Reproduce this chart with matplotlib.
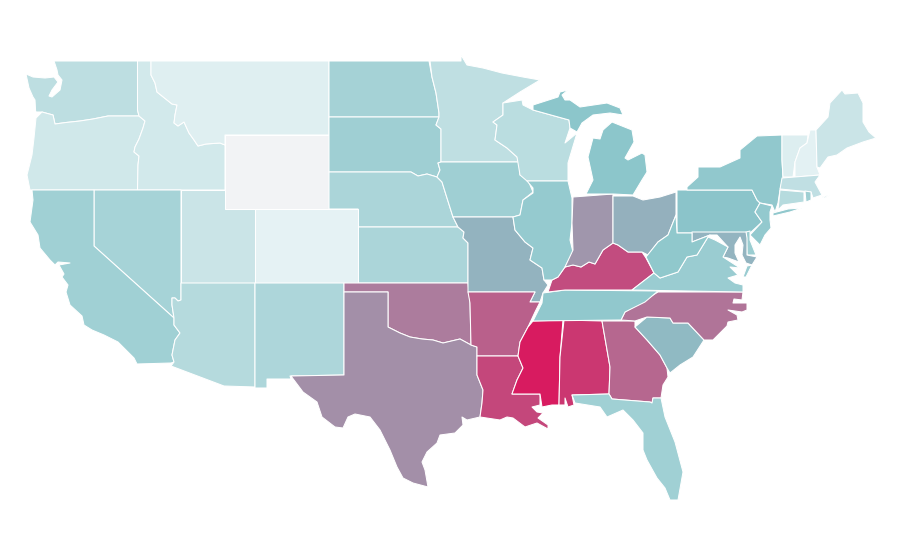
import matplotlib
matplotlib.use("Agg")
import matplotlib.pyplot as plt
from matplotlib.collections import PolyCollection
from matplotlib.colors import LinearSegmentedColormap, Normalize

# State outlines (one or more rings per state)
outlines = {
 "WA": [[(54,61),(137.5,61),(137.5,110),(139,116),(108,116),(93,119),(80,121),(66,122.5),(55,124),(53,115),(42,112),(36,112),(36,118),(35,100),(33,97),(29,88),(26,74),(33,77),(45,78),(54,77),(58,82),(52,90),(49,96),(52,97),(60,90),(62,80),(58,75),(57,70)]],
 "OR": [[(36,118),(42,112),(53,115),(55,124),(66,122.5),(80,121),(93,119),(108,116),(139,116),(145,121),(143,128),(139,139),(135,147),(134,152),(139,156),(138,165),(137.5,190),(30,190),(27,175),(32,155),(34,138)]],
 "ID": [[(137.5,61),(151,61),(151,75),(155,83),(157,92),(167,100),(172,104),(177,105),(175,115),(174,123),(178,126),(184,122),(189,133),(194,140),(198,146),(206,144),(220,143),(225,145),(225,190),(137.5,190),(138,165),(139,156),(134,152),(135,147),(139,139),(143,128),(145,121),(139,116),(137.5,110)]],
 "MT": [[(151,61),(329,61),(329,135),(225,135),(225,145),(220,143),(206,144),(198,146),(194,140),(189,133),(184,122),(178,126),(174,123),(175,115),(177,105),(172,104),(167,100),(157,92),(155,83),(151,75)]],
 "WY": [[(225,135),(329,135),(329,209),(225,209)]],
 "ND": [[(329,61),(429,61),(432,77),(436,93),(439,113),(439,117),(329,117)]],
 "SD": [[(329,117),(439,117),(436,125),(441,129),(441,162),(438,163),(440,170),(437,177),(427,174),(418,176),(411,172),(329,172)]],
 "NE": [[(329,172),(411,172),(418,176),(427,174),(437,177),(442,182),(447,198),(453,217),(458,227),(358,227),(358,209),(329,209)]],
 "KS": [[(358,227),(458,227),(464,232),(463,238),(468,243),(468,283),(358,283)]],
 "CO": [[(255,209),(358,209),(358,283),(255,283)]],
 "UT": [[(181,190),(225,190),(225,209),(255,209),(255,283),(181,283)]],
 "NV": [[(94,190),(181,190),(181,300),(178,301),(175,298),(172,298),(172,305),(174,318),(94,246)]],
 "CA": [[(32,190),(94,190),(94,246),(174,318),(174,325),(180,333),(175,340),(173,350),(172,355),(174,362),(171,363),(137,364),(134,358),(118,342),(104,335),(92,330),(84,325),(82,316),(70,305),(66,292),(68,285),(62,277),(64,274),(59,265),(70,263),(58,262),(55,265),(50,260),(40,248),(38,235),(30,222),(33,200)]],
 "AZ": [[(181,283),(255,283),(255,387),(224,386),(171,366),(174,362),(172,355),(173,350),(175,340),(180,333),(174,325),(174,318),(172,305),(172,298),(175,298),(178,301),(181,300)]],
 "NM": [[(255,283),(344,283),(344,375),(290,376),(291,379),(267,379),(267,388),(255,388)]],
 "OK": [[(344,283),(468,283),(470,303),(471,345),(460,339),(443,343),(433,340),(422,339),(410,337),(400,333),(388,327),(388,292),(344,292)]],
 "TX": [[(344,292),(388,292),(388,327),(400,333),(410,337),(422,339),(433,340),(443,343),(460,339),(471,345),(477,347),(477,375),(483,390),(482,403),(480,417),(467,420),(462,417),(463,425),(455,433),(440,435),(437,443),(427,452),(422,462),(425,470),(428,487),(413,483),(403,478),(397,467),(390,450),(380,430),(370,417),(355,414),(348,417),(343,428),(335,427),(322,417),(317,402),(303,392),(291,376),(344,375)]],
 "MN": [[(430,61),(461,61),(461,55),(467,65),(483,68),(502,73),(523,77),(540,80),(520,92),(503,103),(503,115),(493,122),(497,125),(495,140),(507,148),(517,157),(519,162),(441,162),(441,129),(436,125),(439,117),(439,113),(436,93),(432,77)]],
 "IA": [[(441,162),(519,162),(520,175),(527,178),(533,192),(523,200),(520,215),(513,217),(453,217),(447,198),(442,182),(437,177),(440,170),(438,163)]],
 "MO": [[(453,217),(513,217),(515,230),(525,242),(533,248),(530,260),(542,268),(544,280),(548,285),(543,293),(540,302),(530,302),(535,292),(468,292),(468,243),(463,238),(464,232),(458,227)]],
 "AR": [[(468,292),(535,292),(530,302),(540,302),(535,312),(528,327),(520,342),(518,356),(477,356),(477,347),(471,345),(470,303)]],
 "LA": [[(477,356),(518,356),(523,368),(517,380),(512,394),(540,394),(540,405),(532,407),(537,412),(543,413),(538,418),(548,425),(548,429),(537,423),(525,427),(513,418),(507,417),(500,420),(480,417),(482,403),(483,390),(477,375)]],
 "MS": [[(533,321),(563,320),(560,357),(559,405),(552,405),(542,407),(540,394),(512,394),(517,380),(523,368),(518,356),(520,342),(528,327)]],
 "AL": [[(564,320),(602,321),(610,367),(609,394),(572,395),(574,405),(568,407),(565,398),(565,405),(559,405),(560,357)]],
 "GA": [[(602,321),(635,321),(635,327),(647,340),(660,355),(667,368),(668,377),(663,385),(661,398),(653,398),(652,403),(650,402),(612,399),(609,394),(610,367)]],
 "FL": [[(572,395),(609,394),(612,399),(650,402),(652,403),(653,398),(661,398),(665,417),(675,442),(683,472),(678,500),(670,500),(665,488),(657,478),(647,460),(643,450),(643,433),(633,420),(623,410),(607,417),(600,407),(575,403)]],
 "SC": [[(635,327),(647,317),(670,318),(673,323),(688,323),(704,340),(693,357),(680,365),(670,373),(667,368),(660,355),(647,340)]],
 "NC": [[(621,320),(625,312),(658,292),(743,292),(742,300),(734,299),(733,303),(747,303),(747,310),(742,312),(728,310),(737,315),(738,320),(728,322),(727,326),(713,340),(704,340),(688,323),(673,323),(670,318),(647,317),(635,321)]],
 "TN": [[(543,293),(565,290),(658,291),(645,302),(625,312),(621,320),(533,321),(542,303)]],
 "KY": [[(548,292),(552,280),(558,277),(565,267),(573,265),(581,267),(589,262),(595,264),(603,250),(613,243),(618,245),(628,252),(642,252),(646,258),(654,273),(632,290),(565,290)]],
 "WI": [[(503,103),(522,100),(523,105),(533,110),(569,120),(570,128),(565,143),(577,133),(568,163),(568,181),(527,181),(520,175),(517,157),(507,148),(495,140),(497,125),(493,122),(503,115)]],
 "IL": [[(527,181),(568,181),(572,198),(572,223),(570,240),(573,252),(565,267),(558,277),(552,280),(544,280),(542,268),(530,260),(533,248),(525,242),(515,230),(513,217),(520,215),(523,200),(533,193),(533,188)]],
 "IN": [[(573,197),(613,194),(613,243),(603,250),(595,264),(589,262),(581,267),(573,265),(565,267),(573,250),(572,223)]],
 "OH": [[(613,196),(633,196),(643,200),(660,197),(676,192),(676,215),(668,235),(658,242),(648,255),(642,252),(628,252),(618,245),(613,243)]],
 "MI": [[(586,194),(613,194),(633,195),(642,180),(647,172),(645,155),(642,153),(628,160),(625,158),(634,142),(632,130),(612,122),(603,130),(600,139),(593,138),(588,157),(593,180)],
        [(533,105),(558,97),(560,92),(568,90),(562,95),(565,100),(570,100),(580,107),(607,103),(620,108),(623,115),(610,113),(593,115),(582,123),(577,132),(570,128),(569,120),(533,110)]],
 "PA": [[(677,190),(752,190),(757,200),(760,203),(755,212),(762,222),(750,233),(677,233)]],
 "NY": [[(687,190),(687,187),(698,177),(698,167),(720,167),(740,158),(740,150),(757,136),(782,135),(782,160),(783,178),(780,190),(778,203),(775,212),(772,205),(760,203),(757,200),(752,190)],
        [(773,213),(788,209),(802,208),(790,212),(773,216)]],
 "NJ": [[(760,203),(772,206),(770,212),(770,220),(771,228),(765,235),(760,245),(750,235),(762,222),(755,212)]],
 "DE": [[(746,232),(750,231),(750,240),(756,255),(747,255)]],
 "MD": [[(692,232),(746,232),(747,238),(747,255),(757,257),(752,265),(746,263),(742,255),(743,245),(740,237),(735,245),(735,253),(739,262),(728,258),(723,257),(728,247),(717,235),(710,235),(692,242)]],
 "VA": [[(632,290),(654,273),(660,278),(678,272),(687,257),(697,255),(708,237),(715,240),(728,247),(723,257),(740,268),(730,267),(738,275),(728,278),(735,283),(743,285),(743,292)],
        [(752,265),(746,277),(743,277),(747,266)]],
 "WV": [[(646,257),(658,242),(668,235),(676,215),(677,233),(692,233),(692,242),(710,235),(708,237),(697,255),(687,257),(678,272),(660,278),(654,273)]],
 "VT": [[(782,135),(808,135),(807,143),(800,148),(795,162),(793,177),(783,177),(782,160)]],
 "NH": [[(810,130),(816,130),(817,167),(820,175),(795,177),(795,162),(800,148),(807,143)]],
 "ME": [[(816,130),(828,117),(830,103),(842,90),(845,94),(858,93),(863,103),(863,122),(869,132),(876,138),(863,142),(847,148),(837,155),(828,157),(820,168),(817,167)]],
 "MA": [[(782,178),(820,175),(815,182),(822,195),(813,198),(811,192),(780,189)],
        [(822,197),(830,195),(825,198)]],
 "CT": [[(780,190),(804,192),(804,202),(783,205),(778,210)]],
 "RI": [[(805,191),(811,192),(811,200),(806,202)]],
}

# Choropleth values on the reference's colour ramp (estimated from the fills)
values = {
 "WA":.26,"OR":.165,"ID":.155,"MT":.092,"WY":0,"ND":.374,"SD":.403,"NE":.345,"KS":.345,
 "CO":.063,"UT":.199,"NV":.369,"CA":.398,"AZ":.30,"NM":.335,"OK":.712,"TX":.659,"MN":.248,
 "IA":.403,"MO":.553,"AR":.794,"LA":.871,"MS":1.0,"AL":.915,"GA":.774,"FL":.398,"SC":.535,
 "NC":.735,"TN":.471,"KY":.853,"WI":.272,"IL":.451,"IN":.638,"OH":.559,"MI":.495,"PA":.5,
 "NY":.471,"NJ":.461,"DE":.422,"MD":.547,"VA":.427,"WV":.476,"VT":.102,"NH":.078,"ME":.199,
 "MA":.243,"CT":.29,"RI":.403,
}

ramp = LinearSegmentedColormap.from_list(
    "ramp", [(0, "#f2f3f5"), (0.063, "#e5f2f4"), (0.5, "#8bc5ca"), (1, "#d81b60")])

rings, ring_values = [], []
for state, parts in outlines.items():
    for part in parts:
        rings.append(part)
        ring_values.append(values[state])

fig = plt.figure(figsize=(9, 5.6), dpi=100)
ax = fig.add_axes([0, 0, 1, 1])
coll = PolyCollection(rings, array=ring_values, cmap=ramp, norm=Normalize(0, 1),
                      edgecolors="white", linewidths=0.75)
ax.add_collection(coll)
ax.set_xlim(0, 900)
ax.set_ylim(560, 0)
ax.axis("off")
fig.savefig("out.png", dpi=100, facecolor="white")
